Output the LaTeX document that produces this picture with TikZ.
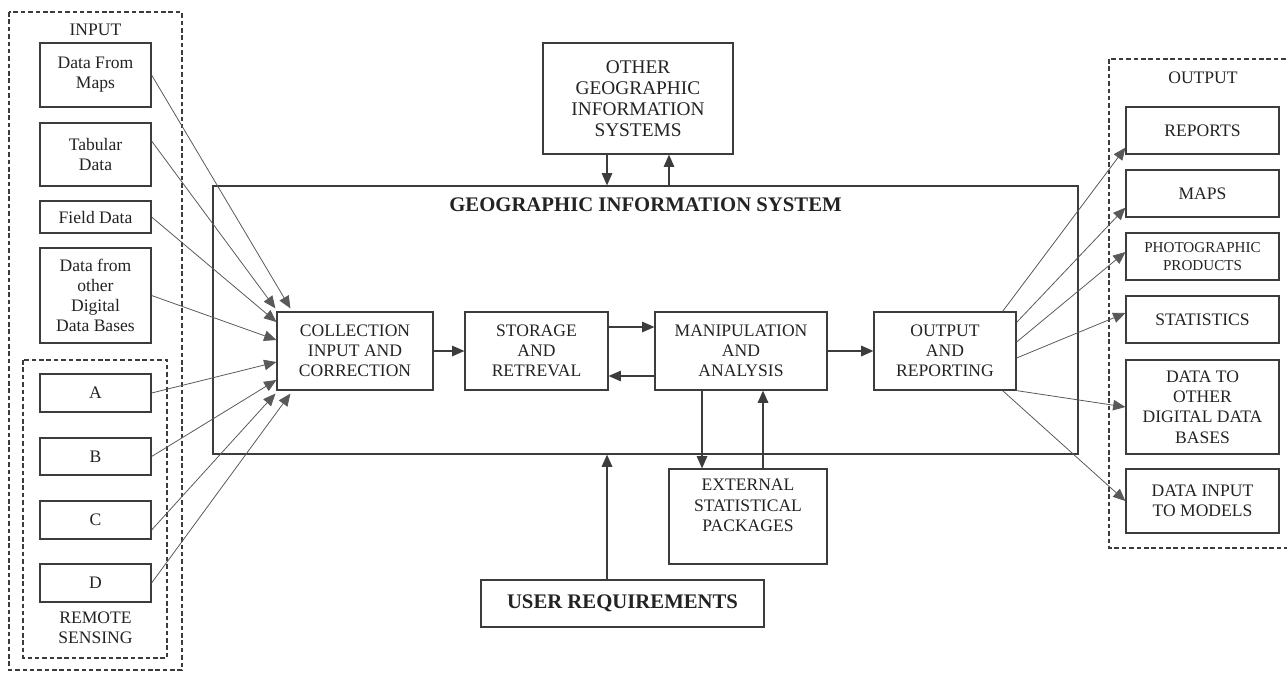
\documentclass[tikz,border=0pt]{standalone}
\usepackage{fontspec}
\setmainfont{Liberation Serif}
\usetikzlibrary{
    arrows.meta,
    positioning,
    calc
}
\definecolor{inkGray}{RGB}{35,35,35}
\definecolor{lineGray}{RGB}{60,60,60}
\tikzset{
  box/.style    = {draw=lineGray, line width=0.7pt, align=center, inner sep=1pt,
                   text=inkGray, font=\fontsize{10}{11.5}\selectfont},
  inbox/.style  = {box, minimum width=2.22cm},
  outbox/.style = {box, minimum width=3.06cm},
  core/.style   = {box, minimum height=1.56cm},
  grp/.style    = {draw=lineGray, line width=0.6pt, dash pattern=on 2.6pt off 1.6pt},
  grptxt/.style = {text=inkGray, align=center, font=\fontsize{10}{11.5}\selectfont},
  arr/.style    = {-{Triangle[length=7pt,width=6pt]}, line width=0.65pt, lineGray},
  arrg/.style   = {arr, line width=0.45pt, black!65}
}

\begin{document}
\begin{tikzpicture}[x=0.02cm,y=-0.02cm]
\useasboundingbox (0,0) rectangle (1287,673);
\draw[grp] (9,12) rectangle (182,670);
\draw[grp] (23,360) rectangle (167,658);
\draw[grp] (1109,59) rectangle (1295,548);
\node[grptxt] (intitle) at (95.5,30) {INPUT};
\node[grptxt] (rstitle) at (95.5,628) {REMOTE\\SENSING};
\node[grptxt] (outtitle) at (1203,78) {OUTPUT};

\node[inbox, minimum height=1.28cm] (maps)  at (95.5,75)    {Data From\\Maps};
\node[inbox, minimum height=1.26cm] (tab)   at (95.5,154.5) {Tabular\\Data};
\node[inbox, minimum height=0.64cm] (field) at (95.5,217)   {Field Data};
\node[inbox, minimum height=1.90cm] (other) at (95.5,295.5) {Data from\\other\\Digital\\Data Bases};
\node[inbox, minimum height=0.76cm] (rsA)   at (95.5,393)   {A};
\node[inbox, minimum height=0.74cm] (rsB)   at (95.5,456.5) {B};
\node[inbox, minimum height=0.76cm] (rsC)   at (95.5,520)   {C};
\node[inbox, minimum height=0.76cm] (rsD)   at (95.5,583)   {D};

\node[draw=lineGray, line width=0.7pt, minimum width=17.3cm, minimum height=5.36cm] (gis) at (645.5,320) {};
\node[text=inkGray, font=\fontsize{11.8}{13}\selectfont\bfseries] (gistitle) at ([yshift=-0.38cm]gis.north) {GEOGRAPHIC INFORMATION SYSTEM};

\node[box, minimum width=3.8cm, minimum height=2.22cm, font=\fontsize{11}{12}\selectfont] (othgis) at (638,98.5) {OTHER\\GEOGRAPHIC\\INFORMATION\\SYSTEMS};

\node[core, minimum width=3.12cm] (coll)  at (355,351)   {COLLECTION\\INPUT AND\\CORRECTION};
\node[core, minimum width=2.86cm] (stor)  at (536.5,351) {STORAGE\\AND\\RETREVAL};
\node[core, minimum width=3.44cm] (manip) at (741,351)   {MANIPULATION\\AND\\ANALYSIS};
\node[core, minimum width=2.84cm] (outr)  at (945,351)   {OUTPUT\\AND\\REPORTING};

\node[box, minimum width=3.16cm, minimum height=1.9cm, text depth=0.45cm] (ext) at (748,516.5) {EXTERNAL\\STATISTICAL\\PACKAGES};
\node[box, minimum width=5.66cm, minimum height=0.94cm, font=\fontsize{11.8}{13}\selectfont\bfseries] (user) at (622.5,603.5) {USER REQUIREMENTS};

\node[outbox, minimum height=0.94cm] (rep)    at (1202.5,130.5) {REPORTS};
\node[outbox, minimum height=0.94cm] (omaps)  at (1202.5,193.5) {MAPS};
\node[outbox, minimum height=0.94cm, font=\fontsize{8.6}{10}\selectfont] (photo) at (1202.5,256.5) {PHOTOGRAPHIC\\PRODUCTS};
\node[outbox, minimum height=0.94cm] (stat)   at (1202.5,319.5) {STATISTICS};
\node[outbox, minimum height=1.88cm] (dbout)  at (1202.5,407)   {DATA TO\\OTHER\\DIGITAL DATA\\BASES};
\node[outbox, minimum height=1.28cm] (model)  at (1202.5,501)   {DATA INPUT\\TO MODELS};

\draw[arrg] (maps.east) -- ([xshift=0.28cm,yshift=0.06cm]coll.north west);
\draw[arrg] ([yshift=0.27cm]tab.east) -- ([xshift=-0.02cm,yshift=0.06cm]coll.north west);
\draw[arrg] (field.east) -- ([yshift=0.58cm]coll.west);
\draw[arrg] (other.east) -- ([yshift=0.22cm]coll.west);
\draw[arrg] (rsA.east) -- ([yshift=-0.22cm]coll.west);
\draw[arrg] (rsB.east) -- ([yshift=-0.58cm]coll.west);
\draw[arrg] ([yshift=-0.2cm]rsC.east) -- ([xshift=-0.02cm,yshift=-0.06cm]coll.south west);
\draw[arrg] (rsD.east) -- ([xshift=0.28cm,yshift=-0.06cm]coll.south west);

\draw[arr] (coll) -- (stor);
\draw[arr] ([yshift=0.48cm]stor.east) -- ([yshift=0.48cm]manip.west);
\draw[arr] ([yshift=-0.5cm]manip.west) -- ([yshift=-0.5cm]stor.east);
\draw[arr, line width=0.9pt] (manip) -- (outr);

\draw[arr] ([xshift=-0.62cm]othgis.south) -- ([xshift=-0.62cm]othgis.south |- gis.north);
\draw[arr] ([xshift=0.62cm]othgis.south |- gis.north) -- ([xshift=0.62cm]othgis.south);
\draw[arr] ([xshift=-0.78cm]manip.south) -- ([xshift=-0.78cm]manip.south |- ext.north);
\draw[arr, line width=0.9pt] ([xshift=0.3cm]ext.north) -- ([xshift=0.3cm]ext.north |- manip.south);
\draw[arr, line width=0.9pt] ([xshift=-0.31cm]user.north) -- ([xshift=-0.31cm]user.north |- gis.south);

\draw[arrg] ([xshift=-0.28cm]outr.north east) -- ([yshift=0.14cm]rep.south west);
\draw[arrg] ([yshift=-0.22cm]outr.north east) -- ([yshift=0.2cm]omaps.south west);
\draw[arrg] ([yshift=0.18cm]outr.east) -- ([yshift=0.09cm]photo.west);
\draw[arrg] ([yshift=-0.14cm]outr.east) -- ([yshift=0.13cm]stat.west);
\draw[arrg] (outr.south east) -- (dbout.west);
\draw[arrg] ([xshift=-0.28cm]outr.south east) -- (model.west);
\end{tikzpicture}
\end{document}
